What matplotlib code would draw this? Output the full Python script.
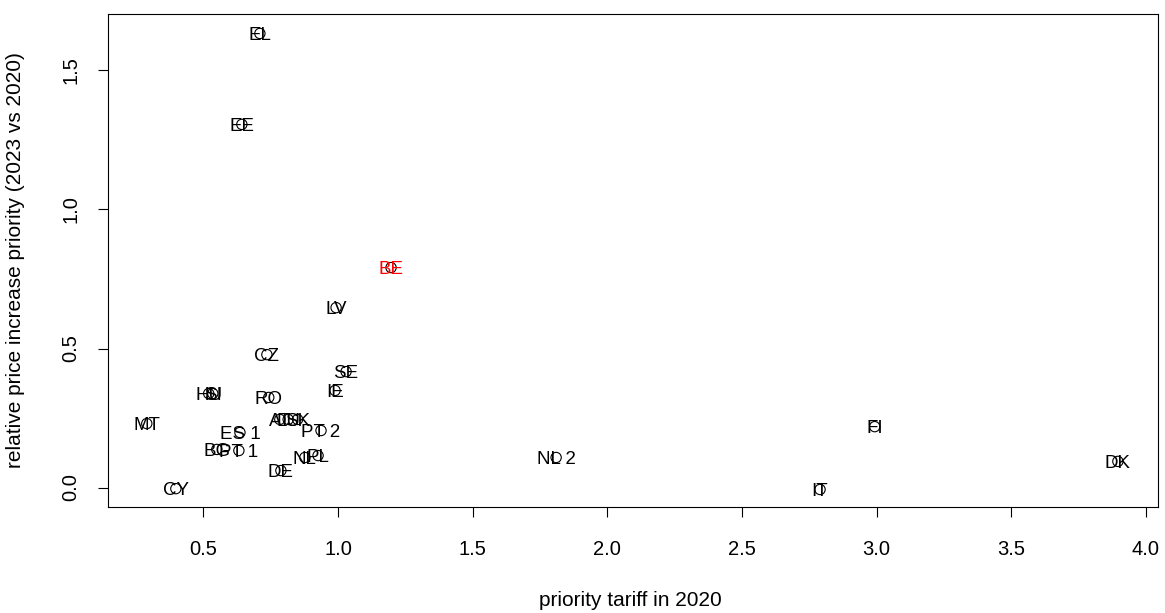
import matplotlib
matplotlib.use("Agg")
import matplotlib.pyplot as plt

plt.rcParams['font.family'] = ['Liberation Sans', 'DejaVu Sans']

countries = ["EL", "EE", "BE", "LV", "CZ", "SE", "IE", "RO", "HU", "SI", "MT",
             "ES 1", "BG", "PT 1", "PT 2", "NL", "PL", "DE", "CY", "NL 2",
             "FI", "IT", "DK", "AT", "LU", "SK"]
tariff_2020 = [0.71, 0.643, 1.197, 0.993, 0.736, 1.03, 0.989, 0.743, 0.52, 0.535, 0.29,
               0.636, 0.55, 0.632, 0.937, 0.877, 0.926, 0.788, 0.398, 1.81,
               2.993, 2.79, 3.896, 0.784, 0.815, 0.85]
rel_increase = [1.633, 1.306, 0.791, 0.647, 0.478, 0.417, 0.349, 0.324, 0.338, 0.338, 0.23,
                0.198, 0.137, 0.133, 0.205, 0.108, 0.115, 0.061, -0.004, 0.108,
                0.219, -0.007, 0.094, 0.245, 0.245, 0.245]
colors = ["red" if c == "BE" else "black" for c in countries]

fig = plt.figure(figsize=(11.65, 6.13), dpi=100)
ax = fig.add_axes([108/1165, 1 - 507/613, (1158-108)/1165, (507-14)/613])

ax.scatter(tariff_2020, rel_increase, s=55, facecolors='none', edgecolors='black', linewidths=0.8, zorder=2)
for x, y, lab, col in zip(tariff_2020, rel_increase, countries, colors):
    ax.text(x, y, lab, ha='center', va='center_baseline', fontsize=13.5, color=col, zorder=3)

ax.set_xlim(0.146, 4.045)
ax.set_ylim(-0.07, 1.703)
ax.set_xticks([0.5, 1.0, 1.5, 2.0, 2.5, 3.0, 3.5, 4.0])
ax.set_xticklabels(["0.5", "1.0", "1.5", "2.0", "2.5", "3.0", "3.5", "4.0"])
ax.set_yticks([0.0, 0.5, 1.0, 1.5])
ax.set_yticklabels(["0.0", "0.5", "1.0", "1.5"], rotation=90, va='center')
ax.tick_params(axis='both', direction='out', length=7, width=0.8, labelsize=14.5)
ax.tick_params(axis='x', pad=17)
ax.tick_params(axis='y', pad=13)
for sp in ax.spines.values():
    sp.set_linewidth(0.8)

ax.set_xlabel("priority tariff in 2020", fontsize=15, va='center', ha='center')
ax.xaxis.set_label_coords(0.5 - 3/1050, (507 - 600) / 493)
ax.set_ylabel("relative price increase priority (2023 vs 2020)", fontsize=15, va='center', ha='center')
ax.yaxis.set_label_coords((16 - 108) / 1050, 0.5)

fig.savefig("out.png", dpi=100)
